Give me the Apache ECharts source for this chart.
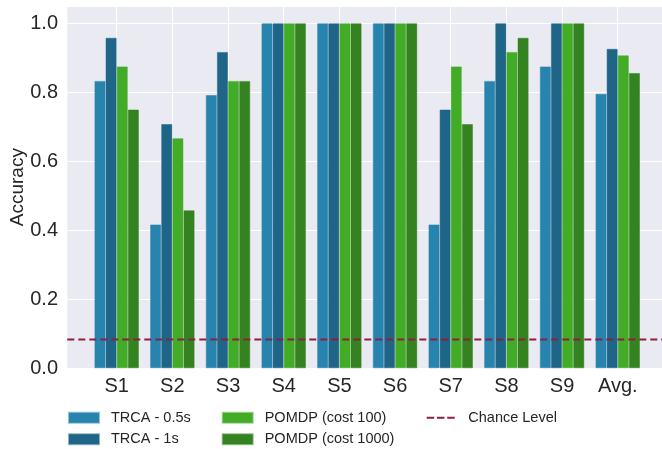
<!DOCTYPE html>
<html>
<head>
<meta charset="utf-8">
<title>Accuracy per subject</title>
<script src="https://cdn.jsdelivr.net/npm/echarts@6/dist/echarts.min.js"></script>
<style>
  html, body { margin: 0; padding: 0; background: #ffffff; }
  #chart { width: 662px; height: 449px; }
</style>
</head>
<body>
<div id="chart"></div>
<script>
// Subjects on the x axis
const categories = ['S1', 'S2', 'S3', 'S4', 'S5', 'S6', 'S7', 'S8', 'S9', 'Avg.'];

// Classification accuracy per method
const trca05 = [0.833, 0.417, 0.792, 1.0, 1.0, 1.0, 0.417, 0.833, 0.875, 0.796];
const trca1 = [0.958, 0.708, 0.917, 1.0, 1.0, 1.0, 0.750, 1.0, 1.0, 0.926];
const pomdp100 = [0.875, 0.667, 0.833, 1.0, 1.0, 1.0, 0.875, 0.917, 1.0, 0.907];
const pomdp1000 = [0.750, 0.458, 0.833, 1.0, 1.0, 1.0, 0.708, 0.958, 1.0, 0.856];

// Chance level for the 12-class task
const chanceLevel = 0.0833;

// Y tick values
const yTicks = [0.0, 0.2, 0.4, 0.6, 0.8, 1.0];

const seriesNames = ['TRCA - 0.5s', 'TRCA - 1s', 'POMDP (cost 100)', 'POMDP (cost 1000)'];
const seriesValues = [trca05, trca1, pomdp100, pomdp1000];
const seriesColors = ['#2784AE', '#1E6587', '#43AC27', '#348220'];
const edgeColors = ['rgba(39,132,174,0.5)', 'rgba(30,101,135,0.5)', 'rgba(67,172,39,0.5)', 'rgba(52,130,32,0.5)'];

const FONT = "'Liberation Sans', Arial, sans-serif";
const TEXT = '#262626';

// Plot frame in x-axis units (the axis itself runs from -1 to 10)
const xLeft = -0.887;
const xRight = 9.795;

const chart = echarts.init(document.getElementById('chart'), null, { renderer: 'canvas' });

const barSeries = seriesNames.map((name, i) => ({
  name: name,
  type: 'bar',
  barWidth: '20%',
  barGap: '0%',
  itemStyle: {
    color: seriesColors[i],
    borderColor: edgeColors[i],
    borderWidth: 1
  },
  data: seriesValues[i].map((v, k) => [k, v]),
  z: 2
}));

const legendText = {
  color: TEXT,
  fontFamily: FONT,
  fontSize: 14.5,
  lineHeight: 14,
  padding: [0, 0, 0, 7]
};

const legendBase = {
  orient: 'vertical',
  top: 410.3,
  padding: 0,
  itemWidth: 30,
  itemHeight: 10,
  itemGap: 6.4,
  textStyle: legendText
};

const option = {
  animation: false,
  backgroundColor: '#ffffff',
  textStyle: { fontFamily: FONT },
  graphic: [{
    type: 'rect',
    z: -1,
    silent: true,
    shape: { x: 67.3, y: 6, width: 594.7, height: 362.3 },
    style: { fill: '#EAEAF2' }
  }],
  grid: {
    left: 61,
    top: 6,
    width: 612.4,
    height: 362.3,
    containLabel: false,
    outerBoundsMode: 'none'
  },
  xAxis: {
    type: 'value',
    min: -1,
    max: 10,
    interval: 1,
    axisLine: { show: false },
    axisTick: { show: false },
    splitLine: { show: true, lineStyle: { color: '#ffffff', width: 1 } },
    axisLabel: {
      color: TEXT,
      fontFamily: FONT,
      fontSize: 20,
      margin: 8,
      formatter: function (v) {
        const i = Math.round(v);
        return (i >= 0 && i < categories.length) ? categories[i] : '';
      }
    }
  },
  yAxis: {
    type: 'value',
    min: 0,
    max: 1.05,
    interval: 0.2,
    name: 'Accuracy',
    nameLocation: 'middle',
    nameRotate: 90,
    nameGap: 34,
    nameMoveOverlap: false,
    nameTextStyle: { color: TEXT, fontFamily: FONT, fontSize: 19 },
    axisLine: { show: false },
    axisTick: { show: false },
    splitLine: { show: true, lineStyle: { color: '#ffffff', width: 1 } },
    axisLabel: {
      color: TEXT,
      fontFamily: FONT,
      fontSize: 20,
      margin: 3,
      formatter: function (v) {
        const hit = yTicks.find(t => Math.abs(t - v) < 1e-6);
        return hit === undefined ? '' : hit.toFixed(1);
      }
    }
  },
  legend: [
    Object.assign({}, legendBase, {
      left: 68,
      icon: 'rect',
      data: [seriesNames[0], seriesNames[1]]
    }),
    Object.assign({}, legendBase, {
      left: 221.7,
      icon: 'rect',
      data: [seriesNames[2], seriesNames[3]]
    }),
    Object.assign({}, legendBase, {
      left: 426.7,
      itemWidth: 28,
      textStyle: Object.assign({}, legendText, { padding: [0, 0, 0, 8.6] }),
      data: [{
        name: 'Chance Level',
        icon: 'path://M0,0h7.5v2h-7.5z M10.25,0h7.5v2h-7.5z M20.5,0h7.5v2h-7.5z',
        itemStyle: { color: '#8F1E3F', borderWidth: 0 }
      }]
    })
  ],
  series: barSeries.concat([{
    name: 'Chance Level',
    type: 'line',
    symbol: 'none',
    z: 5,
    lineStyle: { color: '#8F1E3F', width: 2, type: [7, 4] },
    itemStyle: { color: '#8F1E3F' },
    data: [[xLeft, chanceLevel], [xRight, chanceLevel]]
  }])
};

chart.setOption(option);
</script>
</body>
</html>
